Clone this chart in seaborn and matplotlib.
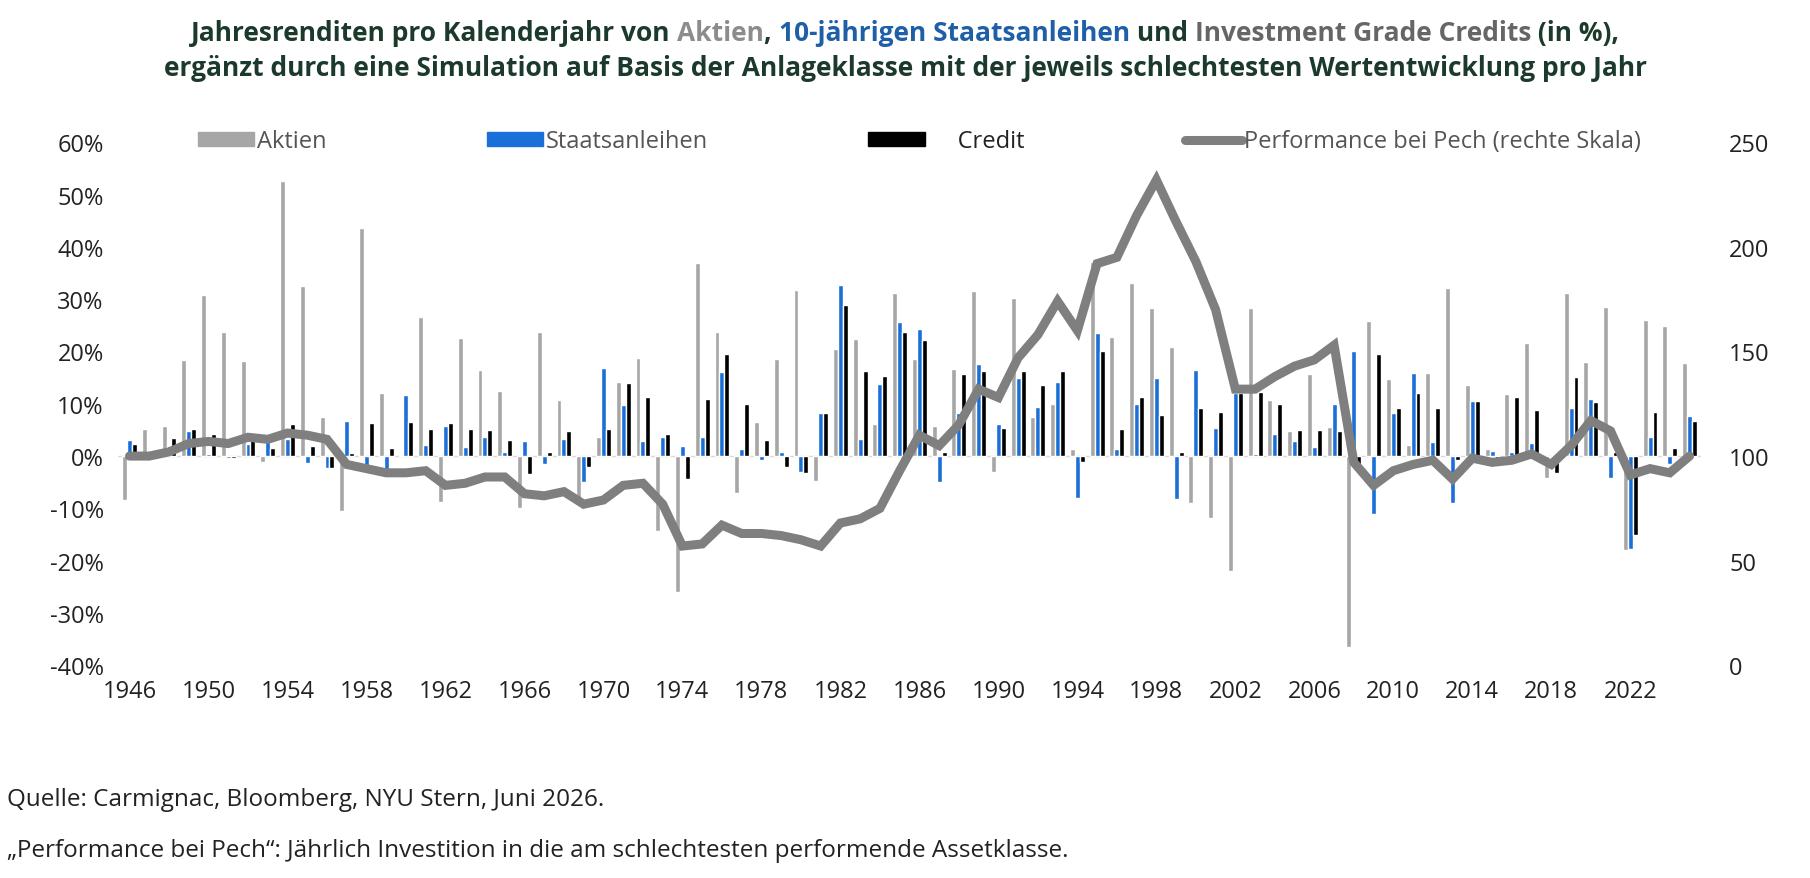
import numpy as np
import pandas as pd
import matplotlib
matplotlib.use("Agg")
import matplotlib.pyplot as plt
import seaborn as sns
from matplotlib.patches import Patch
from matplotlib.lines import Line2D

years = list(range(1946, 2026))
aktien = [-8.4, 5.2, 5.7, 18.3, 30.8, 23.7, 18.2, -1.2, 52.6, 32.6,
          7.4, -10.5, 43.7, 12.1, 0.3, 26.6, -8.8, 22.6, 16.4, 12.4,
          -10.0, 23.8, 10.8, -8.2, 3.6, 14.2, 18.8, -14.3, -25.9, 37.0,
          23.8, -7.0, 6.5, 18.5, 31.7, -4.7, 20.4, 22.3, 6.1, 31.2,
          18.5, 5.8, 16.6, 31.5, -3.1, 30.2, 7.5, 10.0, 1.3, 37.2,
          22.7, 33.1, 28.3, 20.9, -9.0, -11.9, -22.0, 28.4, 10.7, 4.8,
          15.6, 5.5, -36.6, 25.9, 14.8, 2.1, 15.9, 32.1, 13.5, 1.4,
          11.8, 21.6, -4.2, 31.2, 18.0, 28.5, -18.0, 26.0, 24.8, 17.8]
staatsanleihen = [3.1, 0.9, 2.0, 4.7, 0.4, -0.3, 2.3, 4.1, 3.3, -1.3,
                  -2.3, 6.8, -2.1, -2.6, 11.6, 2.1, 5.7, 1.7, 3.7, 0.7,
                  2.9, -1.6, 3.3, -5.0, 16.8, 9.8, 2.8, 3.7, 2.0, 3.6,
                  16.0, 1.3, -0.8, 0.7, -3.0, 8.2, 32.8, 3.2, 13.7, 25.7,
                  24.3, -5.0, 8.2, 17.7, 6.2, 15.0, 9.4, 14.2, -8.0, 23.5,
                  1.4, 9.9, 14.9, -8.3, 16.4, 5.4, 12.1, 0.4, 4.3, 2.8,
                  1.8, 10.0, 20.0, -11.1, 8.3, 15.8, 2.7, -8.9, 10.5, 1.0,
                  0.7, 2.5, 0.0, 9.2, 11.0, -4.2, -17.8, 3.6, -1.5, 7.6]
credit = [2.3, 0.5, 3.4, 5.2, 4.2, -0.3, 3.0, 1.5, 6.1, 2.0,
          -2.3, 0.5, 6.4, 1.5, 6.6, 5.1, 6.4, 5.2, 5.0, 3.0,
          -3.5, 0.8, 4.8, -2.0, 5.2, 14.0, 11.3, 4.2, -4.4, 11.0,
          19.5, 9.9, 3.0, -2.0, -3.3, 8.3, 28.9, 16.2, 15.3, 23.8,
          22.1, 0.8, 15.6, 16.2, 5.4, 16.3, 13.5, 16.3, -1.2, 20.1,
          5.1, 11.3, 7.9, 0.7, 9.1, 8.4, 12.1, 12.3, 10.0, 4.9,
          4.9, 4.7, -2.0, 19.6, 9.1, 12.0, 9.1, -0.8, 10.5, -0.5,
          11.3, 8.9, -3.3, 15.1, 10.3, 0.7, -15.1, 8.5, 1.6, 6.7]
pech = [100, 100, 102, 106, 107, 106, 109, 108, 111, 110,
        108, 96, 94, 92, 92, 93, 86, 87, 90, 90,
        82, 81, 83, 77, 79, 86, 87, 77, 57, 58,
        67, 63, 63, 62, 60, 57, 68, 70, 75, 93,
        110, 105, 115, 132, 128, 147, 158, 174, 160, 192,
        195, 215, 232, 212, 193, 170, 132, 132, 138, 143,
        146, 153, 97, 86, 93, 96, 98, 89, 99, 97,
        98, 101, 96, 105, 117, 112, 91, 94, 92, 100]

klassen = ["Aktien", "Staatsanleihen", "Credit"]
farben = ["#a6a6a6", "#1a6fd8", "#000000"]
linie_farbe = "#7f7f7f"

df = pd.DataFrame({"Jahr": years, "Aktien": aktien,
                   "Staatsanleihen": staatsanleihen, "Credit": credit})
long = df.melt(id_vars="Jahr", var_name="Klasse", value_name="Rendite")

sns.set_theme(style="white")
plt.rcParams["font.family"] = ["Open Sans", "DejaVu Sans"]

fig = plt.figure(figsize=(18.1, 8.79), dpi=100)
ax = fig.add_axes([0.065, 0.242, 0.875, 0.595])
sns.barplot(data=long, x="Jahr", y="Rendite", hue="Klasse", hue_order=klassen,
            palette=farben, width=0.75, ax=ax, legend=False, saturation=1)
ax.axhline(0, color="#d9d9d9", lw=1, zorder=0)
ax.set_ylim(-40, 60)
ax.set_yticks(range(-40, 61, 10))
ax.set_yticklabels([f"{v}%" for v in range(-40, 61, 10)])
ax.set_xlim(-0.6, len(years) - 0.4)
ax.set_xticks(range(0, len(years), 4))
ax.set_xticklabels([str(years[i]) for i in range(0, len(years), 4)])
ax.set_xlabel("")
ax.set_ylabel("")
for s in ax.spines.values():
    s.set_visible(False)
ax.tick_params(axis="both", labelsize=17, colors="#222222", length=0, pad=10)

ax2 = ax.twinx()
sns.lineplot(x=np.arange(len(years)), y=pech, color=linie_farbe, lw=6.5,
             ax=ax2, solid_joinstyle="miter")
ax2.set_ylim(0, 250)
ax2.set_yticks(range(0, 251, 50))
for s in ax2.spines.values():
    s.set_visible(False)
ax2.tick_params(axis="y", labelsize=17, colors="#222222", length=0, pad=20)
ax2.grid(False)

handles = [Patch(color=farben[0]), Patch(color=farben[1]), Patch(color=farben[2]),
           Line2D([0], [0], color=linie_farbe, lw=6.5, solid_capstyle="round")]
labels = ["Aktien", "Staatsanleihen", "     Credit", "Performance bei Pech (rechte Skala)"]
leg = fig.legend(handles, labels, loc="center", bbox_to_anchor=(0.508, 0.838), ncol=4,
                 frameon=False, fontsize=17, handlelength=2.4, handleheight=0.55,
                 handletextpad=0.1, columnspacing=6.8)
for t in leg.get_texts():
    t.set_color("#555555")
leg.get_texts()[2].set_color("#222222")

# title with coloured words
dunkel = "#1c3a2b"
zeile1 = [("Jahresrenditen pro Kalenderjahr von ", dunkel), ("Aktien", "#8c8c8c"),
          (", ", dunkel), ("10-jährigen Staatsanleihen", "#1f5fa8"), (" und ", dunkel),
          ("Investment Grade Credits", "#666666"), (" (in %),", dunkel)]
zeile2 = "ergänzt durch eine Simulation auf Basis der Anlageklasse mit der jeweils schlechtesten Wertentwicklung pro Jahr"
fig.canvas.draw()
r = fig.canvas.get_renderer()
stuecke = []
for txt, col in zeile1:
    t = fig.text(0, 0.962, txt, fontsize=19, fontweight="bold", color=col, va="center")
    stuecke.append(t)
breiten = [t.get_window_extent(r).width for t in stuecke]
x = (fig.bbox.width - sum(breiten)) / 2
for t, w in zip(stuecke, breiten):
    t.set_x(x / fig.bbox.width)
    x += w
fig.text(0.5, 0.922, zeile2, fontsize=19, fontweight="bold", color=dunkel,
         ha="center", va="center")

fig.text(0.004, 0.09, "Quelle: Carmignac, Bloomberg, NYU Stern, Juni 2026.",
         fontsize=17.5, color="#222222", va="center")
fig.text(0.004, 0.032, "„Performance bei Pech“: Jährlich Investition in die am schlechtesten performende Assetklasse.",
         fontsize=17.5, color="#222222", va="center")

fig.savefig("out.png", dpi=100)
